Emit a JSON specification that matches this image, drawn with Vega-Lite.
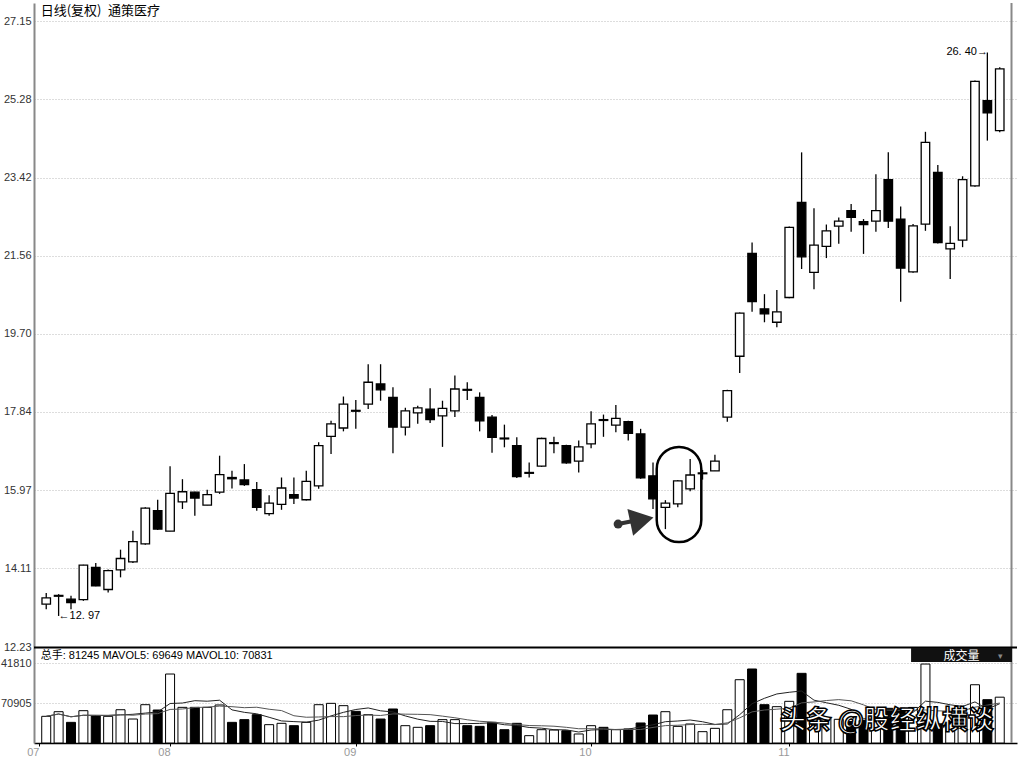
{
  "$schema": "https://vega.github.io/schema/vega-lite/v6.json",
  "padding": {"left": 0, "top": 2, "right": 3, "bottom": 0},
  "background": "white",
  "spacing": 0,
  "bounds": "flush",
  "config": {
    "view": {"stroke": null},
    "font": "Liberation Sans",
    "axis": {"labelFont": "Liberation Sans", "labelFontSize": 11, "labelColor": "#333"}
  },
  "datasets": {
    "k": [
      {"i": 1, "o": 13.25, "h": 13.52, "l": 13.13, "c": 13.40, "v": 47300},
      {"i": 2, "o": 13.44, "h": 13.49, "l": 12.97, "c": 13.46, "v": 55500},
      {"i": 3, "o": 13.37, "h": 13.45, "l": 13.13, "c": 13.29, "v": 36600},
      {"i": 4, "o": 13.36, "h": 14.19, "l": 13.33, "c": 14.18, "v": 57300},
      {"i": 5, "o": 14.13, "h": 14.23, "l": 13.68, "c": 13.69, "v": 48400},
      {"i": 6, "o": 13.60, "h": 14.08, "l": 13.53, "c": 14.05, "v": 47300},
      {"i": 7, "o": 14.07, "h": 14.55, "l": 13.89, "c": 14.34, "v": 59000},
      {"i": 8, "o": 14.26, "h": 15.00, "l": 14.23, "c": 14.74, "v": 42500},
      {"i": 9, "o": 14.69, "h": 15.56, "l": 14.67, "c": 15.54, "v": 67900},
      {"i": 10, "o": 15.48, "h": 15.74, "l": 15.02, "c": 15.04, "v": 58500},
      {"i": 11, "o": 14.99, "h": 16.54, "l": 14.99, "c": 15.89, "v": 122300},
      {"i": 12, "o": 15.69, "h": 16.23, "l": 15.52, "c": 15.93, "v": 63200},
      {"i": 13, "o": 15.92, "h": 15.93, "l": 15.36, "c": 15.78, "v": 63200},
      {"i": 14, "o": 15.61, "h": 15.98, "l": 15.61, "c": 15.86, "v": 63200},
      {"i": 15, "o": 15.92, "h": 16.79, "l": 15.88, "c": 16.34, "v": 67400},
      {"i": 16, "o": 16.27, "h": 16.43, "l": 16.01, "c": 16.24, "v": 36600},
      {"i": 17, "o": 16.21, "h": 16.59, "l": 16.07, "c": 16.10, "v": 41400},
      {"i": 18, "o": 15.98, "h": 16.16, "l": 15.48, "c": 15.56, "v": 50200},
      {"i": 19, "o": 15.41, "h": 15.85, "l": 15.36, "c": 15.66, "v": 32500},
      {"i": 20, "o": 15.63, "h": 16.27, "l": 15.50, "c": 16.02, "v": 34900},
      {"i": 21, "o": 15.86, "h": 16.27, "l": 15.64, "c": 15.78, "v": 30700},
      {"i": 22, "o": 15.74, "h": 16.43, "l": 15.72, "c": 16.18, "v": 36600},
      {"i": 23, "o": 16.07, "h": 17.11, "l": 16.00, "c": 17.03, "v": 67900},
      {"i": 24, "o": 17.25, "h": 17.62, "l": 16.83, "c": 17.55, "v": 70300},
      {"i": 25, "o": 17.45, "h": 18.20, "l": 17.37, "c": 18.02, "v": 66200},
      {"i": 26, "o": 17.87, "h": 18.12, "l": 17.43, "c": 17.85, "v": 56100},
      {"i": 27, "o": 18.02, "h": 18.97, "l": 17.90, "c": 18.54, "v": 50200},
      {"i": 28, "o": 18.50, "h": 18.97, "l": 18.10, "c": 18.36, "v": 42500},
      {"i": 29, "o": 18.18, "h": 18.42, "l": 16.85, "c": 17.47, "v": 60300},
      {"i": 30, "o": 17.47, "h": 17.93, "l": 17.27, "c": 17.86, "v": 30700},
      {"i": 31, "o": 17.81, "h": 17.98, "l": 17.55, "c": 17.93, "v": 27800},
      {"i": 32, "o": 17.90, "h": 18.40, "l": 17.57, "c": 17.65, "v": 30700},
      {"i": 33, "o": 17.74, "h": 18.10, "l": 17.00, "c": 17.92, "v": 41400},
      {"i": 34, "o": 17.86, "h": 18.70, "l": 17.71, "c": 18.38, "v": 41400},
      {"i": 35, "o": 18.37, "h": 18.54, "l": 18.12, "c": 18.35, "v": 30700},
      {"i": 36, "o": 18.18, "h": 18.30, "l": 17.37, "c": 17.62, "v": 29500},
      {"i": 37, "o": 17.71, "h": 17.76, "l": 16.86, "c": 17.23, "v": 36600},
      {"i": 38, "o": 17.21, "h": 17.53, "l": 16.99, "c": 17.19, "v": 23600},
      {"i": 39, "o": 17.03, "h": 17.23, "l": 16.26, "c": 16.29, "v": 34900},
      {"i": 40, "o": 16.37, "h": 16.63, "l": 16.27, "c": 16.39, "v": 13000},
      {"i": 41, "o": 16.54, "h": 17.22, "l": 16.52, "c": 17.20, "v": 23600},
      {"i": 42, "o": 17.08, "h": 17.24, "l": 16.85, "c": 17.10, "v": 23000},
      {"i": 43, "o": 17.03, "h": 17.05, "l": 16.60, "c": 16.62, "v": 21800},
      {"i": 44, "o": 16.66, "h": 17.15, "l": 16.39, "c": 17.00, "v": 16000},
      {"i": 45, "o": 17.07, "h": 17.85, "l": 16.97, "c": 17.55, "v": 30700},
      {"i": 46, "o": 17.65, "h": 17.77, "l": 17.24, "c": 17.63, "v": 27800},
      {"i": 47, "o": 17.52, "h": 18.00, "l": 17.35, "c": 17.68, "v": 23600},
      {"i": 48, "o": 17.60, "h": 17.62, "l": 17.15, "c": 17.32, "v": 24800},
      {"i": 49, "o": 17.31, "h": 17.43, "l": 16.24, "c": 16.26, "v": 35500},
      {"i": 50, "o": 16.31, "h": 16.63, "l": 15.52, "c": 15.76, "v": 49600},
      {"i": 51, "o": 15.56, "h": 15.73, "l": 15.04, "c": 15.66, "v": 55500},
      {"i": 52, "o": 15.64, "h": 16.21, "l": 15.56, "c": 16.19, "v": 29500},
      {"i": 53, "o": 16.00, "h": 16.71, "l": 15.94, "c": 16.33, "v": 33700},
      {"i": 54, "o": 16.36, "h": 16.45, "l": 16.22, "c": 16.38, "v": 20100},
      {"i": 55, "o": 16.43, "h": 16.81, "l": 16.43, "c": 16.66, "v": 26000},
      {"i": 56, "o": 17.71, "h": 18.36, "l": 17.60, "c": 18.34, "v": 59000},
      {"i": 57, "o": 19.16, "h": 20.20, "l": 18.76, "c": 20.19, "v": 112200},
      {"i": 58, "o": 21.61, "h": 21.87, "l": 20.22, "c": 20.46, "v": 131200},
      {"i": 59, "o": 20.29, "h": 20.64, "l": 19.97, "c": 20.17, "v": 67900},
      {"i": 60, "o": 19.97, "h": 20.74, "l": 19.85, "c": 20.22, "v": 64400},
      {"i": 61, "o": 20.56, "h": 22.25, "l": 20.54, "c": 22.23, "v": 73900},
      {"i": 62, "o": 22.83, "h": 24.02, "l": 21.24, "c": 21.53, "v": 123500},
      {"i": 63, "o": 21.16, "h": 22.69, "l": 20.76, "c": 21.81, "v": 50000},
      {"i": 64, "o": 21.78, "h": 22.30, "l": 21.50, "c": 22.15, "v": 45000},
      {"i": 65, "o": 22.26, "h": 22.47, "l": 21.84, "c": 22.38, "v": 42000},
      {"i": 66, "o": 22.63, "h": 22.79, "l": 22.13, "c": 22.47, "v": 38000},
      {"i": 67, "o": 22.37, "h": 22.43, "l": 21.60, "c": 22.30, "v": 40000},
      {"i": 68, "o": 22.38, "h": 23.50, "l": 22.13, "c": 22.63, "v": 45000},
      {"i": 69, "o": 23.37, "h": 24.02, "l": 22.22, "c": 22.38, "v": 61500},
      {"i": 70, "o": 22.43, "h": 22.73, "l": 20.46, "c": 21.26, "v": 61500},
      {"i": 71, "o": 21.17, "h": 22.31, "l": 21.15, "c": 22.27, "v": 63065},
      {"i": 72, "o": 22.31, "h": 24.51, "l": 22.15, "c": 24.26, "v": 140000},
      {"i": 73, "o": 23.54, "h": 23.72, "l": 21.85, "c": 21.87, "v": 34000},
      {"i": 74, "o": 21.72, "h": 22.26, "l": 21.00, "c": 21.85, "v": 40000},
      {"i": 75, "o": 21.93, "h": 23.45, "l": 21.76, "c": 23.37, "v": 46900},
      {"i": 76, "o": 23.22, "h": 25.73, "l": 23.20, "c": 25.71, "v": 103300},
      {"i": 77, "o": 25.25, "h": 26.40, "l": 24.30, "c": 24.96, "v": 76800},
      {"i": 78, "o": 24.54, "h": 26.05, "l": 24.50, "c": 26.01, "v": 81245}
    ]
  },
  "vconcat": [
    {
      "width": 983,
      "height": 644,
      "data": {"name": "k"},
      "layer": [
        {
          "mark": {"type": "rule", "color": "#000", "strokeWidth": 1.3},
          "encoding": {
            "x": {"field": "i", "type": "quantitative",
                  "scale": {"domain": [0.416, 78.99], "nice": false, "zero": false},
                  "axis": null},
            "y": {"field": "l", "type": "quantitative",
                  "scale": {"domain": [12.23, 27.58], "nice": false, "zero": false},
                  "axis": {"title": null, "values": [12.23, 14.11, 15.97, 17.84, 19.70, 21.56, 23.42, 25.28, 27.15], "format": ".2f",
                           "grid": true, "gridColor": "#bbb", "gridDash": [1, 2], "ticks": false,
                           "domainColor": "#888", "domainWidth": 2, "labelPadding": 3, "minExtent": 32, "maxExtent": 32}},
            "y2": {"field": "h"}
          }
        },
        {
          "mark": {"type": "bar", "width": 8.5, "stroke": "#000", "strokeWidth": 1.3},
          "encoding": {
            "x": {"field": "i", "type": "quantitative"},
            "y": {"field": "o", "type": "quantitative"},
            "y2": {"field": "c"},
            "fill": {"condition": {"test": "datum.c >= datum.o", "value": "#fff"}, "value": "#000"}
          }
        },
        {
          "data": {"values": [{}]},
          "mark": {"type": "rule", "color": "#888", "strokeWidth": 2},
          "encoding": {"x": {"datum": 78.95}}
        },
        {
          "data": {"values": [{}]},
          "mark": {"type": "text", "text": "日线(复权)\u2002通策医疗", "align": "left", "baseline": "middle", "font": "Noto Sans CJK SC", "fontSize": 13, "color": "#000"},
          "encoding": {"x": {"datum": 0.55}, "y": {"datum": 27.39}}
        },
        {
          "data": {"values": [{}]},
          "mark": {"type": "text", "text": "←12. 97", "align": "left", "baseline": "middle", "fontSize": 11, "color": "#000"},
          "encoding": {"x": {"datum": 2.0}, "y": {"datum": 12.97}}
        },
        {
          "data": {"values": [{}]},
          "mark": {"type": "text", "text": "26. 40→", "align": "right", "baseline": "middle", "fontSize": 11, "color": "#000"},
          "encoding": {"x": {"datum": 77.05}, "y": {"datum": 26.42}}
        },
        {
          "data": {"values": [{}]},
          "mark": {"type": "rect", "fill": "#fff", "fillOpacity": 0, "stroke": "#000", "strokeWidth": 2.5, "cornerRadius": 22},
          "encoding": {"x": {"datum": 50.3}, "x2": {"datum": 53.9}, "y": {"datum": 17.0}, "y2": {"datum": 14.73}}
        },
        {
          "data": {"values": [{}]},
          "mark": {"type": "rule", "color": "#333", "strokeWidth": 4},
          "encoding": {"x": {"datum": 47.18}, "x2": {"datum": 48.5}, "y": {"datum": 15.16}, "y2": {"datum": 15.24}}
        },
        {
          "data": {"values": [{}]},
          "mark": {"type": "point", "shape": "circle", "filled": true, "color": "#333", "size": 80, "opacity": 1},
          "encoding": {"x": {"datum": 47.18}, "y": {"datum": 15.16}}
        },
        {
          "data": {"values": [{}]},
          "mark": {"type": "point", "shape": "triangle-right", "filled": true, "color": "#333", "size": 750, "angle": -12, "opacity": 1},
          "encoding": {"x": {"datum": 49.1}, "y": {"datum": 15.26}}
        }
      ]
    },
    {
      "width": 983,
      "height": 96,
      "data": {"name": "k"},
      "transform": [
        {"window": [{"op": "mean", "field": "v", "as": "ma5"}], "frame": [-4, 0], "sort": [{"field": "i"}]},
        {"window": [{"op": "mean", "field": "v", "as": "ma10"}], "frame": [-9, 0], "sort": [{"field": "i"}]}
      ],
      "layer": [
        {
          "mark": {"type": "bar", "width": 9, "stroke": "#000", "strokeWidth": 1},
          "encoding": {
            "x": {"field": "i", "type": "quantitative",
                  "scale": {"domain": [0.416, 78.99], "nice": false, "zero": false},
                  "axis": {"title": null, "values": [0.416, 11, 26, 45, 61],
                           "labelExpr": "datum.value < 5 ? '07' : datum.value < 20 ? '08' : datum.value < 40 ? '09' : datum.value < 50 ? '10' : '11'",
                           "labelAlign": "right", "labelDx": -2, "labelColor": "#999", "labelFontSize": 11, "labelPadding": 0,
                           "tickSize": 3, "tickColor": "#000", "domainColor": "#000", "domainWidth": 1.5, "grid": false}},
            "y": {"field": "v", "type": "quantitative",
                  "scale": {"domain": [0, 170200], "nice": false, "zero": true},
                  "axis": {"title": null, "values": [70905, 141810],
                           "labelExpr": "datum.value > 100000 ? '41810' : '70905'",
                           "grid": true, "gridColor": "#bbb", "gridDash": [1, 2], "ticks": false,
                           "domainColor": "#888", "domainWidth": 2, "labelPadding": 3, "minExtent": 32, "maxExtent": 32}},
            "fill": {"condition": {"test": "datum.c >= datum.o", "value": "#fff"}, "value": "#000"}
          }
        },
        {
          "mark": {"type": "line", "color": "#222", "strokeWidth": 1},
          "encoding": {"x": {"field": "i", "type": "quantitative"}, "y": {"field": "ma5", "type": "quantitative"}}
        },
        {
          "mark": {"type": "line", "color": "#555", "strokeWidth": 1},
          "encoding": {"x": {"field": "i", "type": "quantitative"}, "y": {"field": "ma10", "type": "quantitative"}}
        },
        {
          "data": {"values": [{}]},
          "mark": {"type": "rule", "color": "#888", "strokeWidth": 2},
          "encoding": {"x": {"datum": 78.95}}
        },
        {
          "data": {"values": [{}]},
          "mark": {"type": "rule", "color": "#000", "strokeWidth": 2},
          "encoding": {"y": {"datum": 169300}}
        },
        {
          "data": {"values": [{}]},
          "mark": {"type": "text", "text": "总手: 81245 MAVOL5: 69649 MAVOL10: 70831", "align": "left", "baseline": "middle", "font": "Liberation Sans, Noto Sans CJK SC", "fontSize": 11, "color": "#000"},
          "encoding": {"x": {"datum": 0.55}, "y": {"datum": 154750}}
        },
        {
          "data": {"values": [{}]},
          "mark": {"type": "rect", "color": "#111"},
          "encoding": {"x": {"datum": 70.84}, "x2": {"datum": 78.99}, "y": {"datum": 168400}, "y2": {"datum": 143580}}
        },
        {
          "data": {"values": [{}]},
          "mark": {"type": "text", "text": "成交量", "align": "center", "baseline": "middle", "font": "Noto Sans CJK SC", "fontSize": 12, "color": "#fff"},
          "encoding": {"x": {"datum": 74.92}, "y": {"datum": 155100}}
        },
        {
          "data": {"values": [{}]},
          "mark": {"type": "text", "text": "▾", "align": "center", "baseline": "middle", "fontSize": 9, "color": "#888"},
          "encoding": {"x": {"datum": 78.1}, "y": {"datum": 155100}}
        },
        {
          "data": {"values": [{}]},
          "mark": {"type": "text", "text": "头条 @股经纵横谈", "align": "center", "baseline": "middle", "font": "Noto Sans CJK SC", "fontSize": 26, "fontWeight": "bold", "fill": "#fff", "stroke": "#000", "strokeWidth": 1.5},
          "encoding": {"x": {"datum": 68.88}, "y": {"datum": 39530}}
        }
      ]
    }
  ]
}
